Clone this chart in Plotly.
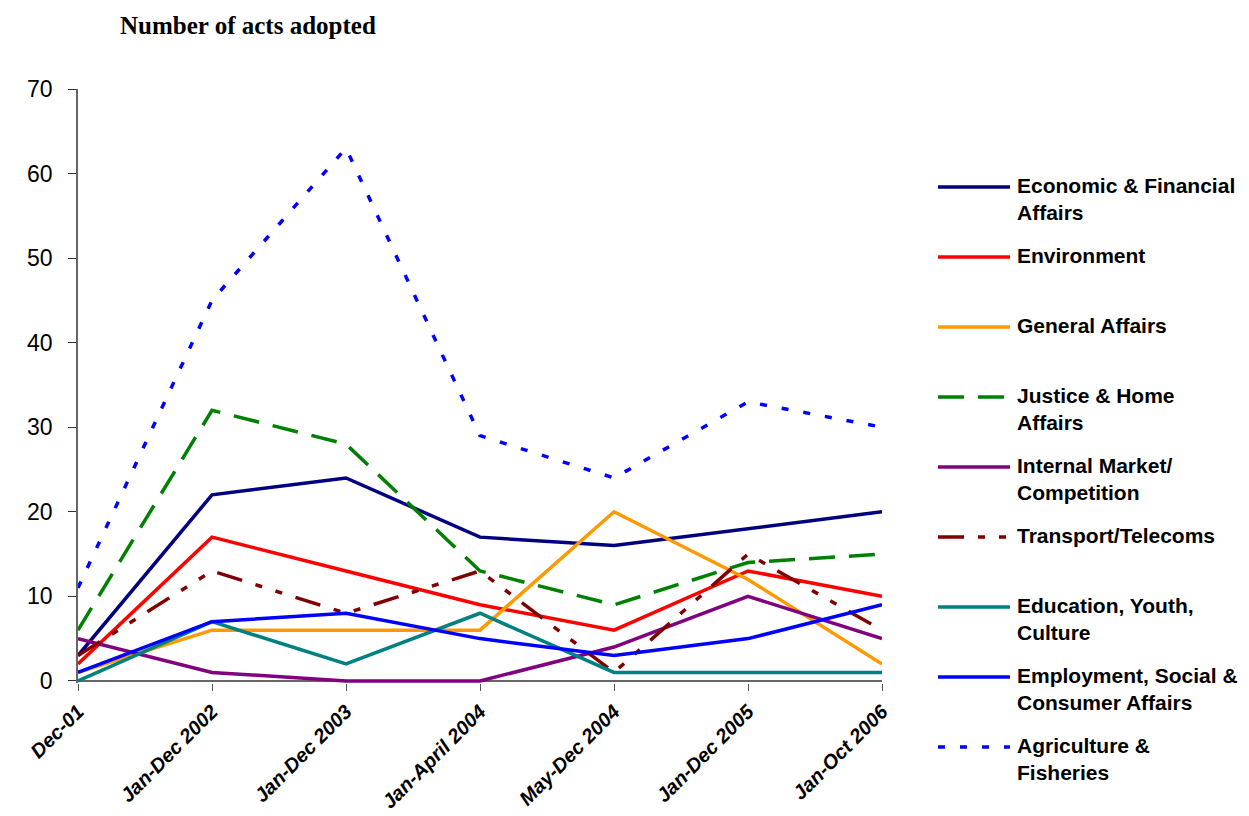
import plotly.graph_objects as go

periods = ["Dec-01", "Jan-Dec 2002", "Jan-Dec 2003", "Jan-April 2004",
           "May-Dec 2004", "Jan-Dec 2005", "Jan-Oct 2006"]

econ_fin = [3, 22, 24, 17, 16, 18, 20]
environment = [2, 17, 13, 9, 6, 13, 10]
general_affairs = [1, 6, 6, 6, 20, 12, 2]
justice_home = [6, 32, 28, 13, 9, 14, 15]
internal_market = [5, 1, 0, 0, 4, 10, 5]
transport_telecoms = [3, 13, 8, 13, 1, 15, 6]
education_youth = [0, 7, 2, 8, 1, 1, 1]
employment_social = [1, 7, 8, 5, 3, 5, 9]
agriculture_fish = [11, 45, 63, 29, 24, 33, 30]

series_names = ["Economic & Financial Affairs", "Environment", "General Affairs",
                "Justice & Home Affairs", "Internal Market/ Competition",
                "Transport/Telecoms", "Education, Youth, Culture",
                "Employment, Social & Consumer Affairs", "Agriculture & Fisheries"]
legend_labels = ["Economic & Financial<br>Affairs", "Environment", "General Affairs",
                 "Justice & Home<br>Affairs", "Internal Market/<br>Competition",
                 "Transport/Telecoms", "Education, Youth,<br>Culture",
                 "Employment, Social &<br>Consumer Affairs", "Agriculture &<br>Fisheries"]
series_values = [econ_fin, environment, general_affairs, justice_home, internal_market,
                 transport_telecoms, education_youth, employment_social, agriculture_fish]

colors = ["#000080", "#FF0000", "#FF9900", "#008000", "#800080",
          "#800000", "#008080", "#0000FF", "#0000FF"]
dashes = ["solid", "solid", "solid", "26px,14px", "solid",
          "26px,14px,7px,14px,7px,14px", "solid", "solid", "7px,15px"]

# layout geometry (pixels)
W, H = 1249, 816
L, R, T, B = 78, 882, 89, 683


def px2x(px):
    return (px - L) / (R - L)


def px2y(py):
    return (B - py) / (B - T)


fig = go.Figure()
for name, vals, c, d in zip(series_names, series_values, colors, dashes):
    fig.add_trace(go.Scatter(x=periods, y=vals, name=name, mode="lines",
                             line=dict(color=c, width=3.5, dash=d)))

shapes = []
annotations = []
for i, (lab, c, d) in enumerate(zip(legend_labels, colors, dashes)):
    yc = 187 + 70 * i
    shapes.append(dict(type="line", xref="paper", yref="paper",
                       x0=px2x(938), x1=px2x(1010), y0=px2y(yc), y1=px2y(yc),
                       line=dict(color=c, width=3.5, dash=d)))
    annotations.append(dict(text="<b>" + lab.replace("<br>", "</b><br><b>") + "</b>",
                            xref="paper", yref="paper",
                            x=px2x(1015), y=px2y(yc - 15), xanchor="left", yanchor="top",
                            align="left", showarrow=False,
                            font=dict(family="Liberation Sans", size=21, color="#000000")))

annotations.append(dict(text="<b>Number of acts adopted</b>", xref="paper", yref="paper",
                        x=px2x(118), y=px2y(25), xanchor="left", yanchor="middle",
                        showarrow=False,
                        font=dict(family="Liberation Serif", size=25, color="#000000")))

fig.update_layout(
    width=W, height=H,
    margin=dict(l=L, r=W - R, t=T, b=H - B),
    paper_bgcolor="white", plot_bgcolor="white",
    showlegend=False,
    shapes=shapes,
    annotations=annotations,
    font=dict(family="Liberation Sans", color="#000000"),
    xaxis=dict(type="category", range=[0, 6], showgrid=False, zeroline=False,
               showline=False, ticks="outside", ticklen=7, tickcolor="#555555",
               automargin=False, tickangle=-45, ticklabelstandoff=1,
               tickfont=dict(family="Liberation Sans", size=20, color="#000000"),
               ticktext=[f"<b><i>{p}</i></b>" for p in periods], tickvals=periods),
    yaxis=dict(range=[-0.25, 70], tickvals=[0, 10, 20, 30, 40, 50, 60, 70],
               showgrid=False, zeroline=True, zerolinecolor="#666666", zerolinewidth=1.5,
               showline=True, linecolor="#666666", linewidth=1.5, automargin=False,
               ticks="outside", ticklen=8, tickcolor="#333333", ticklabelstandoff=11,
               tickfont=dict(family="Liberation Sans", size=23, color="#000000")),
)

fig.write_html("out.html")
